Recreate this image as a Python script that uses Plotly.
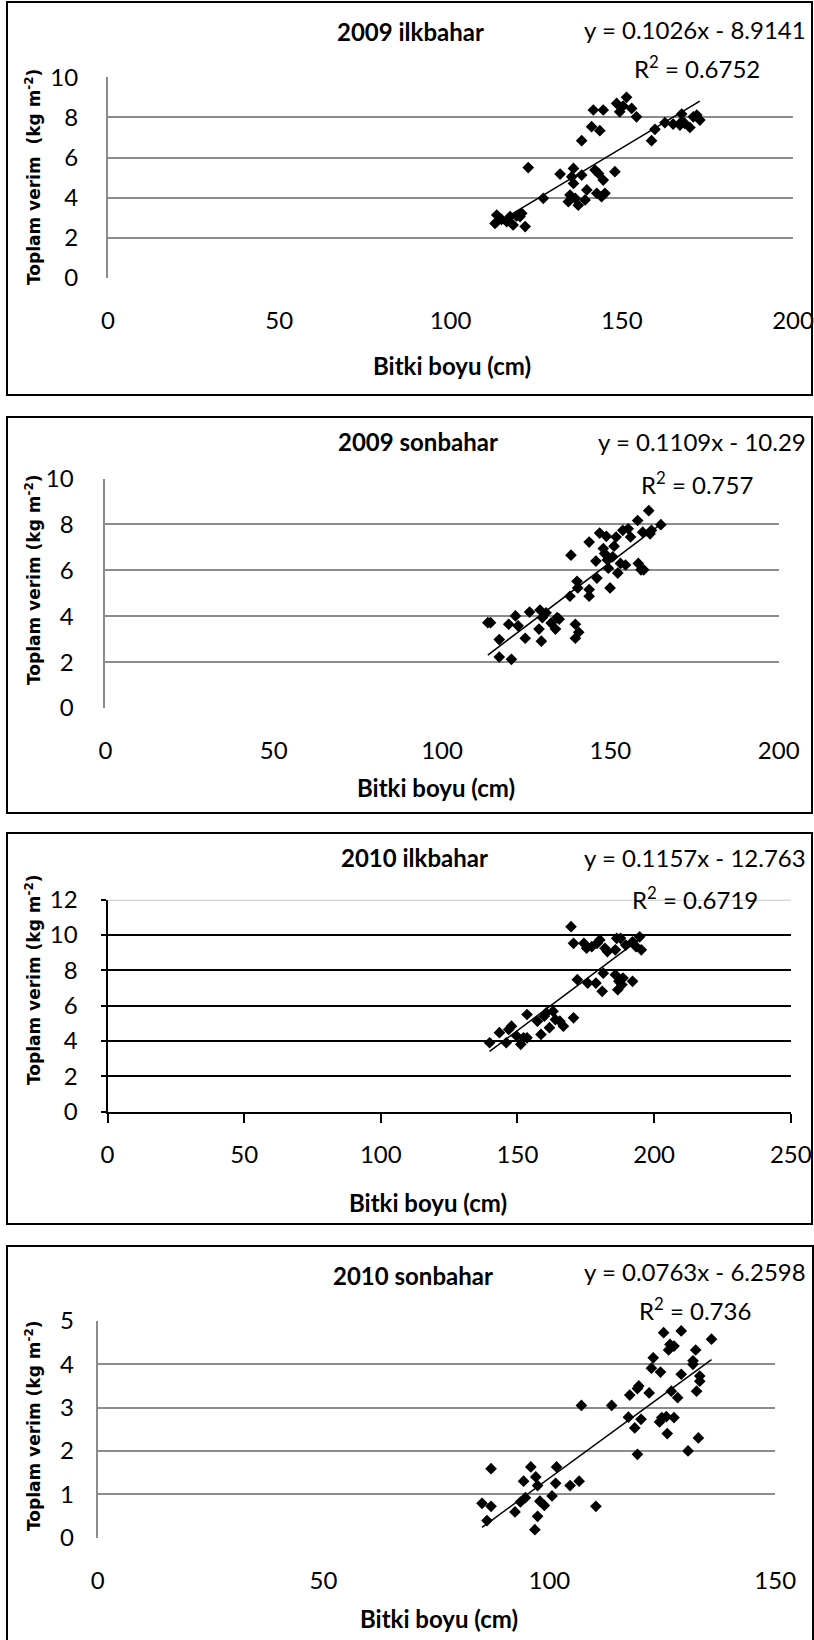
import plotly.graph_objects as go

# ---------------- data ----------------
titles = ["2009 ilkbahar", "2009 sonbahar", "2010 ilkbahar", "2010 sonbahar"]
equations = ["y = 0.1026x - 8.9141", "y = 0.1109x - 10.29",
             "y = 0.1157x - 12.763", "y = 0.0763x - 6.2598"]
r2_values = ["0.6752", "0.757", "0.6719", "0.736"]
slopes = [0.1026, 0.1109, 0.1157, 0.0763]
intercepts = [-8.9141, -10.29, -12.763, -6.2598]
x_max = [200, 200, 250, 150]
x_dtick = [50, 50, 50, 50]
y_max = [10, 10, 12, 5]
y_dtick = [2, 2, 2, 1]
x_title = "Bitki boyu (cm)"
y_titles = ["Toplam verim\u00a0 (kg m<sup>-2</sup>)", "Toplam verim (kg m<sup>-2</sup>)",
            "Toplam verim (kg m<sup>-2</sup>)", "Toplam verim (kg m<sup>-2</sup>)"]

x1 = [113.0, 113.5, 114.9, 116.4, 117.4, 118.3, 119.3, 120.3, 120.8, 121.8,
      122.7, 127.1, 132.0, 134.4, 135.9, 135.4, 135.9, 134.9, 136.4, 137.3,
      138.3, 138.3, 139.3, 139.8, 141.2, 142.2, 141.7, 143.2, 142.7, 143.6,
      144.6, 144.6, 145.1, 144.1, 148.0, 148.5, 149.4, 150.4, 151.4, 152.9,
      154.3, 158.7, 159.7, 162.6, 165.0, 167.0, 167.5, 168.4, 169.9, 170.9,
      171.9, 172.8, 167.5]
y1 = [2.72, 3.14, 2.92, 2.81, 3.06, 2.64, 3.09, 3.06, 3.22, 2.56,
      5.50, 3.97, 5.18, 3.80, 5.46, 5.05, 4.71, 4.13, 3.97, 3.63,
      6.84, 5.13, 3.89, 4.39, 7.54, 5.38, 8.37, 5.21, 4.22, 7.34,
      8.37, 4.88, 4.22, 4.05, 5.30, 8.70, 8.28, 8.57, 9.00, 8.45,
      8.03, 6.84, 7.41, 7.74, 7.67, 7.62, 8.17, 7.70, 7.50, 8.03,
      8.12, 7.87, 7.79]

x2 = [113.6, 114.4, 117.0, 117.0, 120.6, 119.8, 121.8, 122.6, 124.7, 126.0,
      129.1, 128.8, 129.5, 129.8, 130.9, 132.4, 133.7, 134.2, 134.8, 138.0,
      138.3, 139.6, 139.6, 140.6, 140.1, 140.3, 143.7, 143.7, 143.7, 145.7,
      146.0, 146.8, 147.9, 148.3, 148.8, 149.1, 149.4, 149.9, 150.7, 151.1,
      151.7, 152.2, 153.0, 153.7, 154.5, 155.3, 156.0, 158.1, 158.3, 159.1,
      159.6, 159.9, 161.4, 161.8, 162.2, 165.0]
y2 = [3.72, 3.72, 2.98, 2.22, 2.12, 3.65, 4.01, 3.58, 3.04, 4.18,
      4.27, 3.44, 2.91, 3.94, 4.15, 3.70, 3.44, 3.94, 3.87, 4.87,
      6.66, 3.65, 3.04, 3.30, 5.52, 5.23, 7.23, 5.16, 4.87, 6.40,
      5.66, 7.62, 6.95, 6.73, 7.48, 6.45, 6.09, 5.23, 6.59, 7.05,
      7.45, 5.88, 6.30, 7.74, 6.23, 7.81, 7.45, 8.17, 6.30, 6.02,
      7.66, 6.02, 8.60, 7.59, 7.74, 7.99]

x3 = [139.8, 143.4, 145.9, 146.8, 147.8, 149.7, 151.2, 152.2, 153.5, 153.5,
      157.3, 158.6, 159.8, 160.5, 161.7, 163.0, 163.9, 165.5, 166.8, 170.5,
      169.6, 170.5, 171.9, 174.3, 175.3, 175.7, 177.2, 178.7, 179.1, 180.1,
      181.0, 181.4, 182.0, 182.9, 185.8, 185.8, 186.3, 186.7, 187.1, 187.7,
      188.2, 188.6, 189.6, 192.1, 192.1, 193.4, 194.7, 195.3]
y3 = [3.90, 4.47, 3.90, 4.65, 4.84, 4.28, 3.81, 4.18, 4.18, 5.50,
      5.12, 4.37, 5.40, 5.59, 4.75, 5.68, 5.21, 5.12, 4.84, 5.31,
      10.47, 9.53, 7.47, 9.53, 9.25, 7.28, 9.34, 7.28, 9.53, 9.72,
      6.81, 7.84, 9.25, 9.06, 9.16, 7.75, 9.81, 6.90, 7.38, 9.81,
      7.19, 7.56, 9.43, 7.38, 9.62, 9.34, 9.90, 9.16]

x4 = [85.1, 86.2, 87.1, 87.1, 92.4, 93.6, 94.3, 94.7, 95.9, 96.8,
      97.0, 97.4, 97.4, 97.9, 98.9, 100.6, 101.4, 101.6, 104.6, 106.6,
      107.1, 110.3, 113.8, 117.5, 117.8, 118.9, 119.5, 119.8, 119.5, 120.3,
      122.1, 122.6, 123.0, 124.4, 124.6, 124.9, 125.3, 125.9, 126.1, 126.4,
      126.7, 127.0, 127.6, 127.6, 128.4, 129.2, 129.2, 130.7, 131.8, 131.8,
      132.4, 132.6, 133.0, 133.3, 133.3, 135.9]
y4 = [0.79, 0.39, 0.72, 1.59, 0.59, 0.82, 1.30, 0.92, 1.63, 0.18,
      1.40, 1.20, 0.49, 0.84, 0.74, 0.96, 1.25, 1.63, 1.20, 1.30,
      3.05, 0.72, 3.05, 2.78, 3.29, 2.53, 3.44, 3.50, 1.92, 2.73,
      3.34, 3.91, 4.15, 2.67, 3.82, 2.77, 4.73, 2.79, 2.40, 4.33,
      4.46, 3.38, 2.77, 4.42, 3.23, 4.77, 3.77, 2.00, 4.00, 4.08,
      4.33, 3.38, 2.30, 3.73, 3.61, 4.58]

xs = [x1, x2, x3, x4]
ys = [y1, y2, y3, y4]

# ---------------- layout (pixel geometry) ----------------
W, H = 814, 1640
plot_px = [  # left, right, top, bottom of plotting area
    (108, 793, 77.3, 278),
    (105.4, 778.7, 478.5, 708),
    (107.5, 790.8, 899.7, 1111.6),
    (97.6, 775.2, 1321, 1537.5),
]
box_px = [(7, 812, 2, 395), (7, 812, 417, 813), (7, 812, 833, 1224), (7, 813, 1246, 1645)]
title_x = [410, 418, 414, 413]
title_y = [31, 441, 857, 1275]
eq_y = [29, 441, 857, 1271]
r2_y = [67, 483, 898, 1309]
r2_right = [762, 755, 760, 753]
xtitle_x = [452, 436, 428, 439]
xtitle_y = [366, 787, 1202, 1618]
ytitle_y = [177, 580, 980, 1426]
y_standoff = [23, 25, 18, 17]
x_standoff = [26, 26, 12, 26]

FONT = "Lato, Carlito, Calibri, sans-serif"

def px_x(p):
    return p / W

def px_y(p):
    return 1 - p / H

fig = go.Figure()
annotations = []
shapes = []

for i in range(4):
    n = "" if i == 0 else str(i + 1)
    xa, ya = "x" + n, "y" + n
    l, r, t, b = plot_px[i]
    special = (i == 2)
    grid_col = "#000000" if special else "#8c8c8c"

    fig.add_trace(go.Scatter(
        x=xs[i], y=ys[i], mode="markers", xaxis=xa, yaxis=ya,
        marker=dict(symbol="diamond", size=9, color="black"),
        showlegend=False, cliponaxis=False))
    lo, hi = min(xs[i]), max(xs[i])
    fig.add_trace(go.Scatter(
        x=[lo, hi], y=[slopes[i] * lo + intercepts[i], slopes[i] * hi + intercepts[i]],
        mode="lines", xaxis=xa, yaxis=ya, line=dict(color="black", width=1.5),
        showlegend=False))

    xkey = "xaxis" + n
    ykey = "yaxis" + n
    fig.layout[xkey] = dict(
        domain=[px_x(l), px_x(r)], range=[0, x_max[i]], dtick=x_dtick[i], tick0=0,
        anchor=ya, showgrid=False, zeroline=False, automargin=False,
        showline=special, linecolor="black", linewidth=2,
        ticks="outside" if special else "", ticklen=9, tickwidth=2, tickcolor="black",
        tickfont=dict(family=FONT, size=24, color="black"),
        ticklabelstandoff=x_standoff[i], fixedrange=True)
    fig.layout[ykey] = dict(
        domain=[px_y(b), px_y(t)], range=[0, y_max[i]], dtick=y_dtick[i], tick0=0,
        anchor=xa, showgrid=True, gridcolor=grid_col, gridwidth=2, zeroline=False,
        automargin=False,
        showline=True, linecolor="black" if special else "#8c8c8c", linewidth=2,
        ticks="outside" if special else "", ticklen=5, tickwidth=2, tickcolor="black",
        tickfont=dict(family=FONT, size=24, color="black"),
        ticklabelstandoff=y_standoff[i], fixedrange=True)

    if special:
        shapes.append(dict(type="line", xref=xa, yref=ya, x0=0, x1=x_max[i],
                           y0=y_max[i], y1=y_max[i], line=dict(color="#c8c8c8", width=2),
                           layer="above"))

    bl, br, bt, bb = box_px[i]
    shapes.append(dict(type="rect", xref="paper", yref="paper",
                       x0=px_x(bl), x1=px_x(br), y0=px_y(bb), y1=px_y(bt),
                       line=dict(color="black", width=2), fillcolor="rgba(0,0,0,0)"))

    annotations.append(dict(text="<b>" + titles[i] + "</b>", xref="paper", yref="paper",
                            x=px_x(title_x[i]), y=px_y(title_y[i]), xanchor="center",
                            yanchor="middle", showarrow=False,
                            font=dict(family=FONT, size=24, color="black")))
    annotations.append(dict(text=equations[i], xref="paper", yref="paper",
                            x=px_x(808), y=px_y(eq_y[i]), xanchor="right", yanchor="middle",
                            showarrow=False, font=dict(family=FONT, size=24, color="black")))
    annotations.append(dict(text="R<sup>2</sup> = " + r2_values[i], xref="paper", yref="paper",
                            x=px_x(r2_right[i]), y=px_y(r2_y[i]), xanchor="right", yanchor="middle",
                            showarrow=False, font=dict(family=FONT, size=24, color="black")))
    annotations.append(dict(text="<b>" + x_title + "</b>", xref="paper", yref="paper",
                            x=px_x(xtitle_x[i]), y=px_y(xtitle_y[i]), xanchor="center",
                            yanchor="middle", showarrow=False,
                            font=dict(family=FONT, size=24, color="black")))
    annotations.append(dict(text="<b>" + y_titles[i] + "</b>", xref="paper", yref="paper",
                            x=px_x(33), y=px_y(ytitle_y[i]), xanchor="center", yanchor="middle",
                            textangle=-90, showarrow=False,
                            font=dict(family="DejaVu Sans, Verdana, sans-serif", size=17,
                                      color="black")))

fig.update_layout(
    width=W, height=H, margin=dict(l=0, r=0, t=0, b=0, pad=0, autoexpand=False),
    paper_bgcolor="white", plot_bgcolor="white",
    annotations=annotations, shapes=shapes, showlegend=False)

fig.write_html(
    "out.html",
    config={"displayModeBar": False},
    post_script="document.body.style.margin='0px';document.body.style.padding='0px';"
                "document.body.style.overflow='hidden';")
